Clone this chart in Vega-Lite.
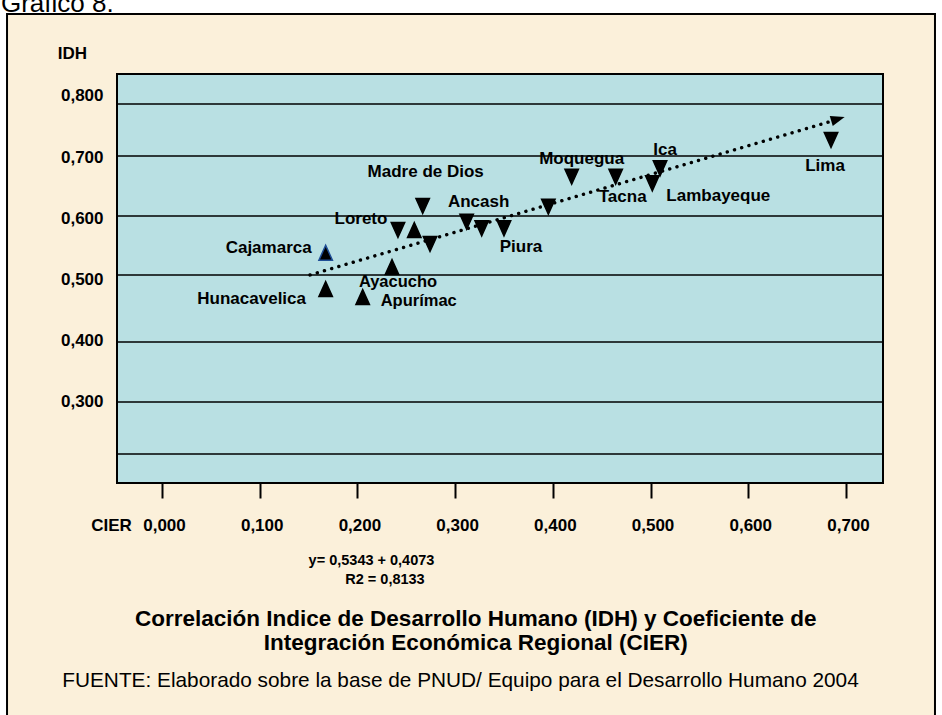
{
  "$schema": "https://vega.github.io/schema/vega-lite/v6.json",
  "width": 766,
  "height": 409,
  "autosize": "none",
  "padding": {"left": 117, "top": 74, "right": 59, "bottom": 232},
  "background": "white",
  "config": {
    "view": {"stroke": null},
    "font": "Liberation Sans",
    "text": {"font": "Liberation Sans", "color": "black"}
  },
  "datasets": {
    "regiones": [
      {"region": "Cajamarca", "cier": 0.1675, "idh": 0.5436, "forma": "arriba"},
      {"region": "Hunacavelica", "cier": 0.1675, "idh": 0.4843, "forma": "arriba"},
      {"region": "Ayacucho", "cier": 0.2354, "idh": 0.5202, "forma": "arriba"},
      {"region": "Apurímac", "cier": 0.2054, "idh": 0.4712, "forma": "arriba"},
      {"region": "Loreto", "cier": 0.2415, "idh": 0.5807, "forma": "abajo"},
      {"region": null, "cier": 0.2582, "idh": 0.5807, "forma": "arriba"},
      {"region": null, "cier": 0.2743, "idh": 0.5578, "forma": "abajo"},
      {"region": "Madre de Dios", "cier": 0.2668, "idh": 0.62, "forma": "abajo"},
      {"region": "Ancash", "cier": 0.3118, "idh": 0.5943, "forma": "abajo"},
      {"region": null, "cier": 0.3272, "idh": 0.5835, "forma": "abajo"},
      {"region": "Piura", "cier": 0.35, "idh": 0.5835, "forma": "abajo"},
      {"region": null, "cier": 0.3954, "idh": 0.6188, "forma": "abajo"},
      {"region": "Moquegua", "cier": 0.4193, "idh": 0.6679, "forma": "abajo"},
      {"region": "Tacna", "cier": 0.4643, "idh": 0.6679, "forma": "abajo"},
      {"region": "Lambayeque", "cier": 0.5018, "idh": 0.6571, "forma": "abajo"},
      {"region": "Ica", "cier": 0.5097, "idh": 0.6816, "forma": "abajo"},
      {"region": "Lima", "cier": 0.6847, "idh": 0.7279, "forma": "abajo"}
    ],
    "rejilla": [{"nivel": 0.7867}, {"nivel": 0.7017}, {"nivel": 0.6036}, {"nivel": 0.5072}, {"nivel": 0.3976}, {"nivel": 0.2996}, {"nivel": 0.2145}],
    "tendencia": [{"cier": 0.1515, "idh": 0.5072}, {"cier": 0.6857, "idh": 0.7589}],
    "uno": [{"k": 1}]
  },
  "data": {"name": "regiones"},
  "layer": [
    {
      "data": {"name": "uno"},
      "mark": {"type": "rect", "fill": "#FBF0DA", "stroke": "black", "strokeWidth": 2, "clip": false},
      "encoding": {
        "x": {"datum": -0.1586, "type": "quantitative"},
        "x2": {"datum": 0.7911},
        "y": {"datum": 0.9339, "type": "quantitative"},
        "y2": {"datum": -0.25}
      }
    },
    {
      "data": {"name": "uno"},
      "mark": {"type": "rect", "fill": "#B9E0E3", "stroke": "black", "strokeWidth": 2, "clip": false},
      "encoding": {
        "x": {"datum": -0.04605, "type": "quantitative"},
        "x2": {"datum": 0.7379},
        "y": {"datum": 0.8358, "type": "quantitative"},
        "y2": {"datum": 0.1671}
      }
    },
    {
      "data": {"name": "rejilla"},
      "mark": {"type": "rule", "color": "black", "strokeWidth": 1.5},
      "encoding": {
        "y": {"field": "nivel", "type": "quantitative"}
      }
    },
    {
      "data": {"name": "tendencia"},
      "mark": {"type": "line", "color": "black", "strokeWidth": 3.4, "strokeCap": "round", "strokeDash": [0.1, 7.4], "clip": false},
      "encoding": {
        "x": {"field": "cier", "type": "quantitative"},
        "y": {"field": "idh", "type": "quantitative"}
      }
    },
    {
      "data": {"name": "uno"},
      "mark": {"type": "point", "shape": "M1,0L-1,-0.75L-1,0.75Z", "filled": true, "color": "black", "opacity": 1, "size": 196, "angle": 343.5, "clip": false},
      "encoding": {
        "x": {"datum": 0.6918, "type": "quantitative"},
        "y": {"datum": 0.7622, "type": "quantitative"}
      }
    },
    {
      "mark": {"type": "point", "filled": true, "fill": "black", "opacity": 1, "size": 225, "strokeWidth": 1.5, "clip": false},
      "encoding": {
        "x": {
          "field": "cier", "type": "quantitative",
          "scale": {"domain": [-0.04605, 0.7379], "nice": false, "zero": false},
          "axis": {
            "title": "CIER", "values": [0, 0.1, 0.2, 0.3, 0.4, 0.5, 0.6, 0.7],
            "labelExpr": "replace(format(datum.value, '.3f'), '.', ',')",
            "grid": false, "domain": false, "ticks": true, "tickSize": 15, "tickWidth": 2, "tickColor": "black",
            "labelFont": "Liberation Sans", "labelFontWeight": "bold", "labelFontSize": 17, "labelColor": "black",
            "labelPadding": 27, "labelBaseline": "middle", "labelOffset": 2, "labelFlush": false, "labelOverlap": false,
            "titleX": -6, "titleY": 42, "titleAlign": "center", "titleBaseline": "middle",
            "titleFont": "Liberation Sans", "titleFontSize": 17, "titleFontWeight": "bold", "titleColor": "black",
            "zindex": 1
          }
        },
        "y": {
          "field": "idh", "type": "quantitative",
          "scale": {"domain": [0.1671, 0.8358], "nice": false, "zero": false},
          "axis": {
            "title": "IDH", "values": [0.3, 0.4, 0.5, 0.6, 0.7, 0.8],
            "labelExpr": "replace(format(datum.value, '.3f'), '.', ',')",
            "grid": false, "domain": false, "ticks": false, "labelPadding": 14,
            "labelFont": "Liberation Sans", "labelFontWeight": "bold", "labelFontSize": 17, "labelColor": "black",
            "labelOverlap": false,
            "titleAngle": 0, "titleX": -45, "titleY": -21, "titleAlign": "center", "titleBaseline": "middle",
            "titleFont": "Liberation Sans", "titleFontSize": 17, "titleFontWeight": "bold", "titleColor": "black",
            "zindex": 1
          }
        },
        "shape": {"field": "forma", "type": "nominal", "legend": null,
          "scale": {"domain": ["abajo", "arriba"], "range": ["M-0.9,-1L0.9,-1L0,1Z", "M0,-1L0.9,1L-0.9,1Z"]}},
        "stroke": {"condition": {"test": "datum.region === 'Cajamarca'", "value": "#1F4E96"}, "value": "black"}
      }
    },
    {"transform": [{"filter": "datum.region === 'Cajamarca'"}], "mark": {"type": "text", "dx": -57, "dy": -5, "fontSize": 17, "fontWeight": "bold", "align": "center", "baseline": "middle"}, "encoding": {"x": {"field": "cier", "type": "quantitative"}, "y": {"field": "idh", "type": "quantitative"}, "text": {"field": "region"}}},
    {"transform": [{"filter": "datum.region === 'Hunacavelica'"}], "mark": {"type": "text", "dx": -74, "dy": 10, "fontSize": 17, "fontWeight": "bold", "align": "center", "baseline": "middle"}, "encoding": {"x": {"field": "cier", "type": "quantitative"}, "y": {"field": "idh", "type": "quantitative"}, "text": {"field": "region"}}},
    {"transform": [{"filter": "datum.region === 'Ayacucho'"}], "mark": {"type": "text", "dx": 6, "dy": 15, "fontSize": 16.5, "fontWeight": "bold", "align": "center", "baseline": "middle"}, "encoding": {"x": {"field": "cier", "type": "quantitative"}, "y": {"field": "idh", "type": "quantitative"}, "text": {"field": "region"}}},
    {"transform": [{"filter": "datum.region === 'Apurímac'"}], "mark": {"type": "text", "dx": 56, "dy": 4, "fontSize": 16.5, "fontWeight": "bold", "align": "center", "baseline": "middle"}, "encoding": {"x": {"field": "cier", "type": "quantitative"}, "y": {"field": "idh", "type": "quantitative"}, "text": {"field": "region"}}},
    {"transform": [{"filter": "datum.region === 'Loreto'"}], "mark": {"type": "text", "dx": -37, "dy": -11, "fontSize": 17, "fontWeight": "bold", "align": "center", "baseline": "middle"}, "encoding": {"x": {"field": "cier", "type": "quantitative"}, "y": {"field": "idh", "type": "quantitative"}, "text": {"field": "region"}}},
    {"transform": [{"filter": "datum.region === 'Madre de Dios'"}], "mark": {"type": "text", "dx": 3, "dy": -34, "fontSize": 17, "fontWeight": "bold", "align": "center", "baseline": "middle"}, "encoding": {"x": {"field": "cier", "type": "quantitative"}, "y": {"field": "idh", "type": "quantitative"}, "text": {"field": "region"}}},
    {"transform": [{"filter": "datum.region === 'Ancash'"}], "mark": {"type": "text", "dx": 12, "dy": -20, "fontSize": 17, "fontWeight": "bold", "align": "center", "baseline": "middle"}, "encoding": {"x": {"field": "cier", "type": "quantitative"}, "y": {"field": "idh", "type": "quantitative"}, "text": {"field": "region"}}},
    {"transform": [{"filter": "datum.region === 'Piura'"}], "mark": {"type": "text", "dx": 17, "dy": 19, "fontSize": 17, "fontWeight": "bold", "align": "center", "baseline": "middle"}, "encoding": {"x": {"field": "cier", "type": "quantitative"}, "y": {"field": "idh", "type": "quantitative"}, "text": {"field": "region"}}},
    {"transform": [{"filter": "datum.region === 'Moquegua'"}], "mark": {"type": "text", "dx": 10, "dy": -18, "fontSize": 17, "fontWeight": "bold", "align": "center", "baseline": "middle"}, "encoding": {"x": {"field": "cier", "type": "quantitative"}, "y": {"field": "idh", "type": "quantitative"}, "text": {"field": "region"}}},
    {"transform": [{"filter": "datum.region === 'Tacna'"}], "mark": {"type": "text", "dx": 7, "dy": 20, "fontSize": 17, "fontWeight": "bold", "align": "center", "baseline": "middle"}, "encoding": {"x": {"field": "cier", "type": "quantitative"}, "y": {"field": "idh", "type": "quantitative"}, "text": {"field": "region"}}},
    {"transform": [{"filter": "datum.region === 'Lambayeque'"}], "mark": {"type": "text", "dx": 66, "dy": 13, "fontSize": 17, "fontWeight": "bold", "align": "center", "baseline": "middle"}, "encoding": {"x": {"field": "cier", "type": "quantitative"}, "y": {"field": "idh", "type": "quantitative"}, "text": {"field": "region"}}},
    {"transform": [{"filter": "datum.region === 'Ica'"}], "mark": {"type": "text", "dx": 5, "dy": -18, "fontSize": 17, "fontWeight": "bold", "align": "center", "baseline": "middle"}, "encoding": {"x": {"field": "cier", "type": "quantitative"}, "y": {"field": "idh", "type": "quantitative"}, "text": {"field": "region"}}},
    {"transform": [{"filter": "datum.region === 'Lima'"}], "mark": {"type": "text", "dx": -6, "dy": 26, "fontSize": 17, "fontWeight": "bold", "align": "center", "baseline": "middle"}, "encoding": {"x": {"field": "cier", "type": "quantitative"}, "y": {"field": "idh", "type": "quantitative"}, "text": {"field": "region"}}},
    {
      "data": {"name": "uno"},
      "mark": {"type": "text", "fontSize": 14.5, "fontWeight": "bold", "align": "center", "baseline": "middle", "clip": false},
      "encoding": {"x": {"datum": 0.2144, "type": "quantitative"}, "y": {"datum": 0.0396, "type": "quantitative"}, "text": {"value": "y= 0,5343 + 0,4073"}}
    },
    {
      "data": {"name": "uno"},
      "mark": {"type": "text", "fontSize": 14.5, "fontWeight": "bold", "align": "center", "baseline": "middle", "clip": false},
      "encoding": {"x": {"datum": 0.2282, "type": "quantitative"}, "y": {"datum": 0.0086, "type": "quantitative"}, "text": {"value": "R2 = 0,8133"}}
    },
    {
      "data": {"name": "uno"},
      "mark": {"type": "text", "fontSize": 22.5, "fontWeight": "bold", "align": "center", "baseline": "middle", "lineHeight": 24, "clip": false},
      "encoding": {"x": {"datum": 0.3211, "type": "quantitative"}, "y": {"datum": -0.0552, "type": "quantitative"}, "text": {"value": ["Correlación Indice de Desarrollo Humano (IDH)  y Coeficiente de", "Integración Económica Regional (CIER)"]}}
    },
    {
      "data": {"name": "uno"},
      "mark": {"type": "text", "fontSize": 20.8, "fontWeight": "normal", "align": "center", "baseline": "middle", "clip": false},
      "encoding": {"x": {"datum": 0.3055, "type": "quantitative"}, "y": {"datum": -0.1566, "type": "quantitative"}, "text": {"value": "FUENTE: Elaborado sobre la base de PNUD/ Equipo para el Desarrollo Humano 2004"}}
    },
    {
      "data": {"name": "uno"},
      "mark": {"type": "text", "fontSize": 26, "fontWeight": "normal", "align": "left", "baseline": "alphabetic", "dx": 1, "clip": false},
      "encoding": {"x": {"datum": -0.1658, "type": "quantitative"}, "y": {"datum": 0.9371, "type": "quantitative"}, "text": {"value": "Gráfico 8."}}
    }
  ]
}
